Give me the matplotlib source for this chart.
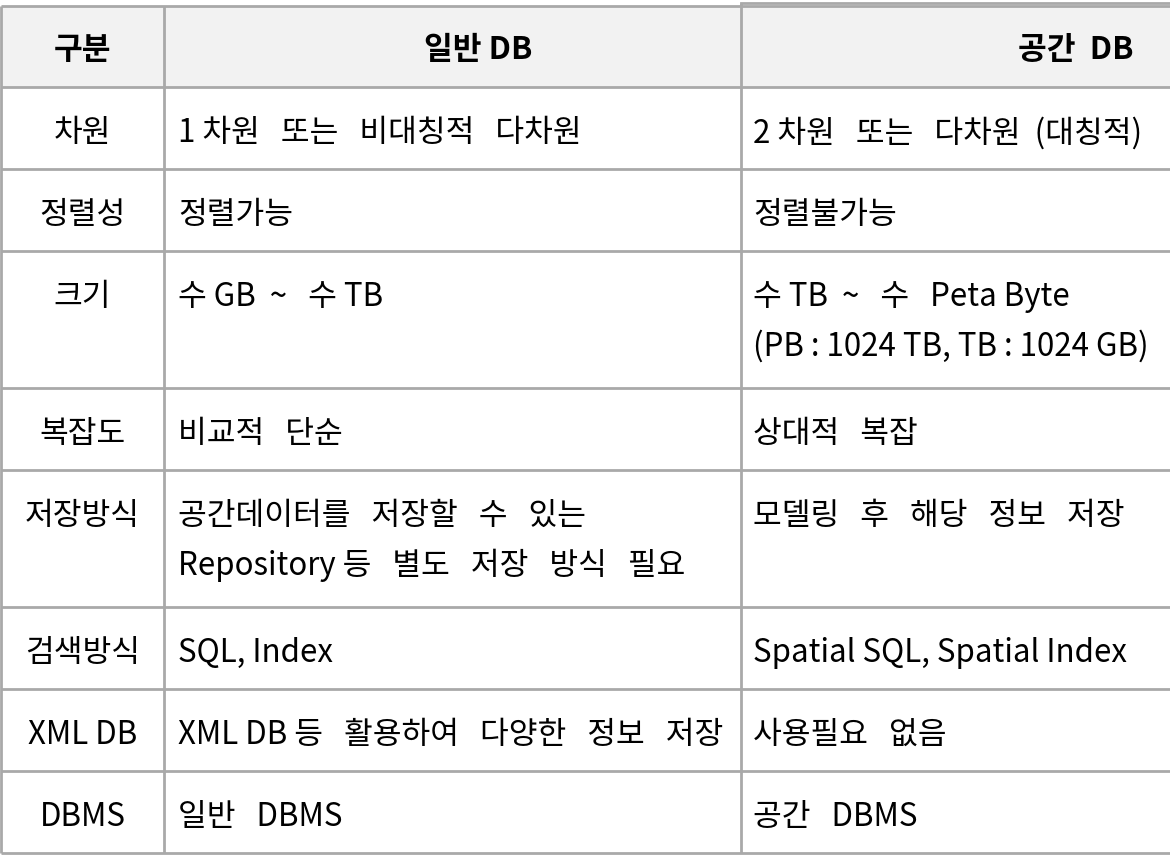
import matplotlib.pyplot as plt
from matplotlib.patches import Rectangle

plt.rcParams['font.family'] = ['Noto Sans CJK KR', 'DejaVu Sans']

# table content
headers = ["구분", "일반 DB", "공간  DB"]
row_labels = ["차원", "정렬성", "크기", "복잡도", "저장방식", "검색방식", "XML DB", "DBMS"]
general_db = [
    "1 차원   또는   비대칭적   다차원",
    "정렬가능",
    "수 GB  ~   수 TB",
    "비교적   단순",
    "공간데이터를   저장할   수   있는\nRepository 등   별도   저장   방식   필요",
    "SQL, Index",
    "XML DB 등   활용하여   다양한   정보   저장",
    "일반   DBMS",
]
spatial_db = [
    "2 차원   또는   다차원  (대칭적)",
    "정렬불가능",
    "수 TB  ~   수   Peta Byte\n(PB : 1024 TB, TB : 1024 GB)",
    "상대적   복잡",
    "모델링   후   해당   정보   저장",
    "Spatial SQL, Spatial Index",
    "사용필요   없음",
    "공간   DBMS",
]

W, H = 1170, 862
fig = plt.figure(figsize=(W / 100, H / 100), dpi=100)
ax = fig.add_axes([0, 0, 1, 1])
ax.set_xlim(0, W)
ax.set_ylim(H, 0)
ax.axis('off')

line_col = '#a9a9a9'
lw = 2.0
fs = 22.5
col_x = [1, 164, 741, W]
top = 7
head_h = 81
line_h = 49

# header
ax.add_patch(Rectangle((col_x[0], top), col_x[3] - col_x[0], head_h,
                       facecolor='#f2f2f2', edgecolor='none', zorder=0))
hy = top + head_h / 2 + 3
ax.text((col_x[0] + col_x[1]) / 2, hy, headers[0], ha='center', va='center',
        fontsize=fs, fontweight='bold')
ax.text(478, hy, headers[1], ha='center', va='center', fontsize=fs, fontweight='bold')
ax.text(1133, hy, headers[2], ha='right', va='center', fontsize=fs, fontweight='bold')

# row boundaries
ys = [top, top + head_h]
for a, b in zip(general_db, spatial_db):
    n = max(a.count('\n'), b.count('\n')) + 1
    ys.append(ys[-1] + 82 + (n - 1) * 55)

for i, (lab, a, b) in enumerate(zip(row_labels, general_db, spatial_db)):
    y0 = ys[i + 1]
    ty = y0 + 45
    ax.text((col_x[0] + col_x[1]) / 2, ty, lab, ha='center', va='center', fontsize=fs)
    for txt, x in ((a, 178), (b, 753)):
        for k, part in enumerate(txt.split('\n')):
            ax.text(x, ty + k * line_h, part, ha='left', va='center', fontsize=fs)

# grid lines
for y in ys:
    ax.plot([col_x[0], W], [y, y], color=line_col, lw=lw, solid_capstyle='butt')
ax.plot([col_x[2], W], [top - 3, top - 3], color=line_col, lw=lw)
for x in col_x[:3]:
    y_start = top - 3 if x == col_x[2] else top
    ax.plot([x, x], [y_start, ys[-1]], color=line_col, lw=lw, solid_capstyle='butt')

fig.savefig('out.png', dpi=100, facecolor='white')
